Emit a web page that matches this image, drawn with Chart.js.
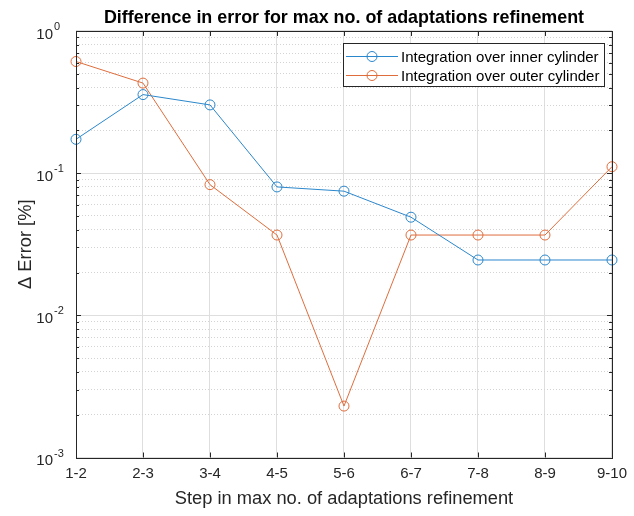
<!DOCTYPE html>
<html><head><meta charset="utf-8">
<script src="https://cdn.jsdelivr.net/npm/chart.js@4/dist/chart.umd.min.js"></script>
<style>html,body{margin:0;padding:0;background:#fff;}#wrap{width:634px;height:516px;}</style>
</head><body><div id="wrap"><canvas id="c" width="634" height="516"></canvas></div>
<script>
const categories = ['1-2','2-3','3-4','4-5','5-6','6-7','7-8','8-9','9-10'];
const innerCylinder = [0.173, 0.357, 0.302, 0.080, 0.0747, 0.049, 0.0245, 0.0245, 0.0245];
const outerCylinder = [0.61, 0.43, 0.083, 0.0367, 0.0023, 0.0367, 0.0367, 0.0367, 0.111];
const seriesLabels = ['Integration over inner cylinder', 'Integration over outer cylinder'];
const yDecades = [1e-3, 1e-2, 1e-1, 1];
const yExponents = ['-3', '-2', '-1', '0'];
const titleText = 'Difference in error for max no. of adaptations refinement';
const xTitle = 'Step in max no. of adaptations refinement';
const yTitle = '\u0394 Error [%]';

const FONT = '"Liberation Sans", Arial, Helvetica, sans-serif';
const AX = '#262626';
const BLUE = '#2b87cc', ORANGE = '#df6d3c';

function isMajor(v) { const l = Math.log10(v); return Math.abs(l - Math.round(l)) < 1e-6; }

const decorPlugin = {
  id: 'decor',
  afterDatasetsDraw(chart) {
    const {ctx, chartArea: a, scales: {x, y}} = chart;
    ctx.save();
    ctx.strokeStyle = AX; ctx.lineWidth = 1;
    ctx.beginPath();
    y.ticks.forEach(t => {
      const py = Math.round(y.getPixelForValue(t.value)) + 0.5;
      const len = isMajor(t.value) ? 5 : 3;
      ctx.moveTo(a.left, py); ctx.lineTo(a.left + len, py);
      ctx.moveTo(a.right, py); ctx.lineTo(a.right - len, py);
    });
    x.ticks.forEach((t, i) => {
      const px = Math.round(x.getPixelForTick(i)) + 0.5;
      ctx.moveTo(px, a.bottom); ctx.lineTo(px, a.bottom - 5);
      ctx.moveTo(px, a.top); ctx.lineTo(px, a.top + 5);
    });
    ctx.stroke();
    ctx.strokeRect(Math.round(a.left) + 0.5, Math.round(a.top) + 0.5, Math.round(a.right - a.left), Math.round(a.bottom - a.top));
    ctx.fillStyle = AX;
    ctx.textBaseline = 'middle';
    yDecades.forEach((v, i) => {
      const py = y.getPixelForValue(v);
      ctx.font = '15px ' + FONT;
      ctx.textAlign = 'right';
      ctx.fillText('10', 53, py + 3.5);
      ctx.font = '11px ' + FONT;
      ctx.textAlign = 'left';
      ctx.fillText(yExponents[i], 54, py - 4);
    });
    const lx = 343.5, ly = 43.5, lw = 261, lh = 43;
    ctx.fillStyle = '#fff';
    ctx.fillRect(lx, ly, lw, lh);
    ctx.strokeStyle = AX;
    ctx.strokeRect(lx, ly, lw, lh);
    chart.data.datasets.forEach((ds, i) => {
      const ry = 56.5 + i * 19;
      ctx.strokeStyle = ds.borderColor; ctx.lineWidth = 1;
      ctx.beginPath(); ctx.moveTo(346, ry); ctx.lineTo(398, ry); ctx.stroke();
      ctx.beginPath(); ctx.arc(372, ry, 5, 0, Math.PI * 2); ctx.stroke();
      ctx.fillStyle = '#000'; ctx.font = '15px ' + FONT;
      ctx.textAlign = 'left'; ctx.textBaseline = 'middle';
      ctx.fillText(ds.label, 401, ry + 1);
    });
    ctx.restore();
  }
};

new Chart(document.getElementById('c'), {
  type: 'line',
  data: {
    labels: categories,
    datasets: [
      {label: seriesLabels[0], data: innerCylinder, borderColor: BLUE, backgroundColor: 'rgba(0,0,0,0)',
       borderWidth: 1, pointRadius: 5, pointBorderWidth: 1, pointBackgroundColor: 'rgba(0,0,0,0)', pointBorderColor: BLUE, tension: 0},
      {label: seriesLabels[1], data: outerCylinder, borderColor: ORANGE, backgroundColor: 'rgba(0,0,0,0)',
       borderWidth: 1, pointRadius: 5, pointBorderWidth: 1, pointBackgroundColor: 'rgba(0,0,0,0)', pointBorderColor: ORANGE, tension: 0}
    ]
  },
  options: {
    responsive: false, animation: false, devicePixelRatio: 1,
    layout: {padding: {left: 0, right: 16, top: 0, bottom: 0}},
    plugins: {
      legend: {display: false},
      tooltip: {enabled: false},
      title: {display: true, fullSize: false, text: titleText, color: '#000',
        font: {family: FONT, size: 17.9, weight: 'bold'}, padding: {top: 7.3, bottom: 2.2}}
    },
    scales: {
      x: {
        type: 'category', offset: false,
        grid: {color: '#dedede', lineWidth: 1, drawTicks: false},
        border: {display: false},
        ticks: {color: AX, font: {family: FONT, size: 15}, padding: 7, maxRotation: 0, autoSkip: false},
        title: {display: true, text: xTitle, color: AX, font: {family: FONT, size: 18.3}, padding: {top: 0, bottom: 6}},
        afterFit: s => { s.height = 58.5; }
      },
      y: {
        type: 'logarithmic', min: 0.001, max: 1,
        afterBuildTicks: s => {
          const t = [];
          for (let e = -3; e < 0; e++) for (let m = 1; m <= 9; m++) t.push({value: m * Math.pow(10, e)});
          t.push({value: 1});
          s.ticks = t;
        },
        grid: {
          color: c => (c.tick && isMajor(c.tick.value)) ? '#dedede' : '#d4d4d4',
          lineWidth: 1, drawTicks: false
        },
        border: {display: false, dash: c => (c.tick && !isMajor(c.tick.value)) ? [1, 2] : []},
        ticks: {display: false},
        title: {display: true, text: yTitle, color: AX, font: {family: FONT, size: 18.3}, padding: {top: 14.5, bottom: 0}},
        afterFit: s => { s.width = 76; }
      }
    }
  },
  plugins: [decorPlugin]
});
</script></body></html>
